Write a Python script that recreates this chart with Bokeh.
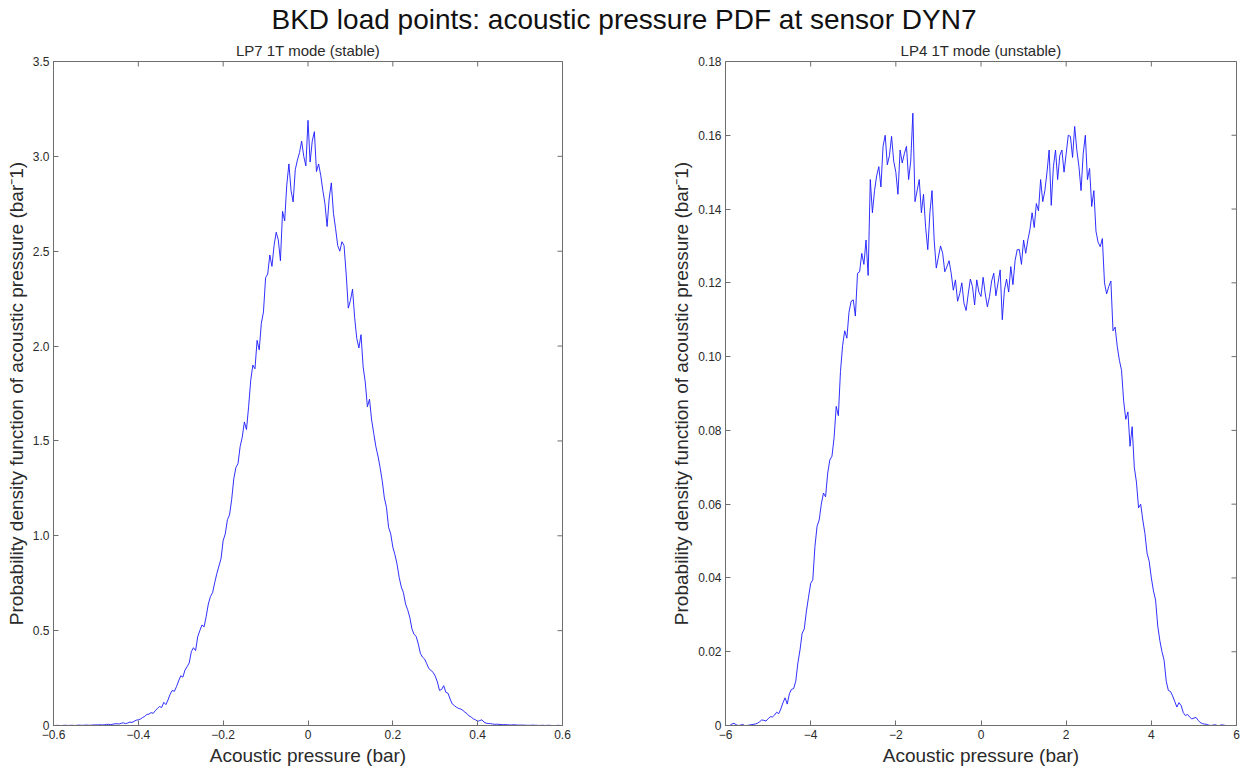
import math
from bokeh.plotting import figure
from bokeh.models import Range1d, FixedTicker, Div
from bokeh.layouts import column, row
from bokeh.embed import file_html
from bokeh.resources import INLINE

# ---------------- data ----------------
main_title = "BKD load points: acoustic pressure PDF at sensor DYN7"
left_title = "LP7 1T mode (stable)"
right_title = "LP4 1T mode (unstable)"
x_label = "Acoustic pressure (bar)"
y_label = "Probability density function of acoustic pressure (bar\u207b1)"

# LP7: pressure bins (bar), step 0.005
left_x = [round(-0.60 + 0.005 * i, 3) for i in range(241)]
left_pdf = [
    0.000, 0.000, 0.001, 0.000, 0.000, 0.001, 0.001, 0.000, 0.001, 0.001,   # -0.600 .. -0.555
    0.000, 0.001, 0.002, 0.001, 0.001, 0.002, 0.002, 0.001, 0.002, 0.003,   # -0.550 .. -0.505
    0.003, 0.003, 0.004, 0.003, 0.004, 0.006, 0.006, 0.005, 0.007, 0.009,   # -0.500 .. -0.455
    0.009, 0.008, 0.012, 0.014, 0.010, 0.013, 0.018, 0.016, 0.022, 0.028,   # -0.450 .. -0.405
    0.030, 0.034, 0.042, 0.048, 0.058, 0.060, 0.068, 0.064, 0.078, 0.090,   # -0.400 .. -0.355
    0.100, 0.095, 0.122, 0.110, 0.135, 0.165, 0.185, 0.180, 0.205, 0.235,   # -0.350 .. -0.305
    0.262, 0.255, 0.292, 0.310, 0.330, 0.390, 0.410, 0.395, 0.468, 0.500,   # -0.300 .. -0.255
    0.530, 0.520, 0.575, 0.640, 0.680, 0.700, 0.752, 0.800, 0.840, 0.880,   # -0.250 .. -0.205
    0.975, 1.010, 1.085, 1.110, 1.190, 1.300, 1.360, 1.380, 1.470, 1.520,   # -0.200 .. -0.155
    1.600, 1.560, 1.680, 1.820, 1.900, 1.880, 2.030, 1.980, 2.120, 2.180,   # -0.150 .. -0.105
    2.360, 2.380, 2.480, 2.420, 2.530, 2.600, 2.560, 2.450, 2.710, 2.660,   # -0.100 .. -0.055
    2.850, 2.960, 2.820, 2.760, 2.930, 2.980, 3.020, 3.080, 3.000, 2.950,   # -0.050 .. -0.005
    3.190, 2.970, 3.080, 3.130, 2.920, 2.960, 2.900, 2.820, 2.750, 2.630,   #  0.000 .. 0.045
    2.780, 2.860, 2.700, 2.620, 2.530, 2.500, 2.550, 2.530, 2.380, 2.200,   #  0.050 .. 0.095
    2.240, 2.300, 2.150, 2.040, 1.990, 2.060, 1.890, 1.810, 1.680, 1.720,   #  0.100 .. 0.145
    1.610, 1.540, 1.470, 1.420, 1.360, 1.290, 1.200, 1.150, 1.045, 1.010,   #  0.150 .. 0.195
    0.940, 0.900, 0.850, 0.780, 0.730, 0.700, 0.640, 0.610, 0.570, 0.510,   #  0.200 .. 0.245
    0.480, 0.470, 0.430, 0.380, 0.360, 0.350, 0.325, 0.300, 0.290, 0.280,   #  0.250 .. 0.295
    0.260, 0.230, 0.185, 0.190, 0.210, 0.175, 0.170, 0.140, 0.114, 0.105,   #  0.300 .. 0.345
    0.096, 0.090, 0.087, 0.080, 0.070, 0.062, 0.050, 0.044, 0.035, 0.030,   #  0.350 .. 0.395
    0.022, 0.026, 0.030, 0.018, 0.012, 0.011, 0.010, 0.008, 0.006, 0.007,   #  0.400 .. 0.445
    0.006, 0.005, 0.004, 0.005, 0.004, 0.003, 0.003, 0.004, 0.003, 0.002,   #  0.450 .. 0.495
    0.002, 0.002, 0.002, 0.001, 0.001, 0.001, 0.002, 0.001, 0.001, 0.000,   #  0.500 .. 0.545
    0.001, 0.001, 0.000, 0.001, 0.001, 0.000, 0.000, 0.000, 0.001, 0.000,   #  0.550 .. 0.595
    0.000,                                                                  #  0.600
]

# LP4: pressure bins (bar), step 0.05
right_x = [round(-6.0 + 0.05 * i, 2) for i in range(241)]
right_pdf = [
    0.0000, 0.0000, 0.0000, 0.0004, 0.0006, 0.0002, 0.0000, 0.0001, 0.0003, 0.0000,  # -6.00 .. -5.55
    0.0000, 0.0001, 0.0002, 0.0003, 0.0004, 0.0006, 0.0010, 0.0015, 0.0014, 0.0012,  # -5.50 .. -5.05
    0.0018, 0.0024, 0.0023, 0.0028, 0.0036, 0.0032, 0.0045, 0.0062, 0.0075, 0.0058,  # -5.00 .. -4.55
    0.0086, 0.0098, 0.0100, 0.0120, 0.0170, 0.0205, 0.0250, 0.0262, 0.0310, 0.0348,  # -4.50 .. -4.05
    0.0385, 0.0395, 0.0485, 0.0540, 0.0557, 0.0600, 0.0630, 0.0620, 0.0684, 0.0720,  # -4.00 .. -3.55
    0.0730, 0.0780, 0.0865, 0.0840, 0.0960, 0.1030, 0.1070, 0.1050, 0.1120, 0.1150,  # -3.50 .. -3.05
    0.1154, 0.1110, 0.1226, 0.1230, 0.1280, 0.1250, 0.1316, 0.1220, 0.1480, 0.1390,  # -3.00 .. -2.55
    0.1450, 0.1490, 0.1515, 0.1460, 0.1570, 0.1600, 0.1520, 0.1545, 0.1597, 0.1530,  # -2.50 .. -2.05
    0.1500, 0.1440, 0.1560, 0.1525, 0.1550, 0.1570, 0.1480, 0.1530, 0.1660, 0.1420,  # -2.00 .. -1.55
    0.1450, 0.1480, 0.1390, 0.1440, 0.1350, 0.1290, 0.1390, 0.1450, 0.1316, 0.1240,  # -1.50 .. -1.05
    0.1270, 0.1300, 0.1280, 0.1230, 0.1244, 0.1260, 0.1226, 0.1180, 0.1208, 0.1150,  # -1.00 .. -0.55
    0.1170, 0.1200, 0.1145, 0.1125, 0.1170, 0.1210, 0.1190, 0.1140, 0.1208, 0.1175,  # -0.50 .. -0.05
    0.1163, 0.1215, 0.1170, 0.1135, 0.1163, 0.1205, 0.1226, 0.1165, 0.1200, 0.1235,  #  0.00 .. 0.45
    0.1100, 0.1180, 0.1210, 0.1175, 0.1244, 0.1195, 0.1260, 0.1290, 0.1290, 0.1250,  #  0.50 .. 0.95
    0.1316, 0.1280, 0.1316, 0.1345, 0.1390, 0.1350, 0.1415, 0.1395, 0.1480, 0.1420,  #  1.00 .. 1.45
    0.1450, 0.1500, 0.1560, 0.1410, 0.1515, 0.1560, 0.1480, 0.1545, 0.1560, 0.1500,  #  1.50 .. 1.95
    0.1550, 0.1600, 0.1597, 0.1540, 0.1624, 0.1560, 0.1515, 0.1450, 0.1550, 0.1600,  #  2.00 .. 2.45
    0.1480, 0.1510, 0.1407, 0.1450, 0.1340, 0.1310, 0.1298, 0.1320, 0.1200, 0.1170,  #  2.50 .. 2.95
    0.1190, 0.1205, 0.1070, 0.1080, 0.1027, 0.0990, 0.0963, 0.0880, 0.0830, 0.0850,  #  3.00 .. 3.45
    0.0757, 0.0810, 0.0700, 0.0660, 0.0590, 0.0600, 0.0557, 0.0520, 0.0467, 0.0445,  #  3.50 .. 3.95
    0.0400, 0.0365, 0.0340, 0.0270, 0.0230, 0.0200, 0.0177, 0.0120, 0.0095, 0.0092,  #  4.00 .. 4.45
    0.0080, 0.0065, 0.0050, 0.0062, 0.0054, 0.0035, 0.0027, 0.0030, 0.0023, 0.0018,  #  4.50 .. 4.95
    0.0020, 0.0022, 0.0014, 0.0008, 0.0005, 0.0004, 0.0003, 0.0001, 0.0000, 0.0001,  #  5.00 .. 5.45
    0.0002, 0.0000, 0.0000, 0.0002, 0.0001, 0.0000, 0.0000, 0.0000, 0.0000, 0.0000,  #  5.50 .. 5.95
    0.0000,                                                                          #  6.00
]

left_xticks = [-0.6, -0.4, -0.2, 0, 0.2, 0.4, 0.6]
left_xtick_labels = ["\u22120.6", "\u22120.4", "\u22120.2", "0", "0.2", "0.4", "0.6"]
left_yticks = [0, 0.5, 1.0, 1.5, 2.0, 2.5, 3.0, 3.5]
left_ytick_labels = ["0", "0.5", "1.0", "1.5", "2.0", "2.5", "3.0", "3.5"]
right_xticks = [-6, -4, -2, 0, 2, 4, 6]
right_xtick_labels = ["\u22126", "\u22124", "\u22122", "0", "2", "4", "6"]
right_yticks = [0, 0.02, 0.04, 0.06, 0.08, 0.10, 0.12, 0.14, 0.16, 0.18]
right_ytick_labels = ["0", "0.02", "0.04", "0.06", "0.08", "0.10", "0.12", "0.14", "0.16", "0.18"]

assert len(left_x) == len(left_pdf)
assert len(right_x) == len(right_pdf)

# ---------------- styling ----------------
FONT = "Liberation Sans"
AXIS_COLOR = "#6e6e6e"
TEXT_COLOR = "#2a2a2a"
LINE_COLOR = "#1a1aff"


def style_axis(ax, ticks, labels):
    ax.ticker = FixedTicker(ticks=ticks, minor_ticks=[])
    ax.major_label_overrides = {t: l for t, l in zip(ticks, labels)}
    ax.major_tick_in = 5
    ax.major_tick_out = 0
    ax.minor_tick_in = 0
    ax.minor_tick_out = 0
    ax.axis_line_color = AXIS_COLOR
    ax.major_tick_line_color = AXIS_COLOR
    ax.major_label_text_font = FONT
    ax.major_label_text_color = TEXT_COLOR
    ax.major_label_text_font_size = "12px"
    ax.major_label_standoff = 4


def make_panel(xs, ys, title, xr, yr, xt, xtl, yt, ytl, left_border, right_border, fw):
    p = figure(
        output_backend="svg", toolbar_location=None,
        frame_width=fw, frame_height=664,
        min_border_left=left_border, min_border_right=right_border,
        min_border_top=27, min_border_bottom=46,
        x_range=Range1d(*xr), y_range=Range1d(*yr),
        title=title,
    )
    p.title.align = "center"
    p.title.text_font = FONT
    p.title.text_font_size = "15px"
    p.title.text_font_style = "normal"
    p.title.text_color = TEXT_COLOR
    p.title.standoff = 5
    p.xgrid.visible = False
    p.ygrid.visible = False
    p.outline_line_color = AXIS_COLOR
    p.background_fill_color = "white"
    p.border_fill_color = "white"

    style_axis(p.xaxis[0], xt, xtl)
    style_axis(p.yaxis[0], yt, ytl)
    p.xaxis[0].axis_label = x_label
    p.yaxis[0].axis_label = y_label
    for ax in (p.xaxis[0], p.yaxis[0]):
        ax.axis_label_text_font = FONT
        ax.axis_label_text_font_size = "19px"
        ax.axis_label_text_font_style = "normal"
        ax.axis_label_text_color = TEXT_COLOR
        ax.axis_label_standoff = 3

    # mirrored inward tick marks on the top and right edges of the box
    p.scatter(xt, [yr[1]] * len(xt), marker="dash", angle=math.pi / 2, size=10,
              line_color=AXIS_COLOR, line_width=1)
    p.scatter([xr[1]] * len(yt), yt, marker="dash", size=10,
              line_color=AXIS_COLOR, line_width=1)

    p.line(xs, ys, line_color=LINE_COLOR, line_width=1.0, line_alpha=0.9)
    return p


p1 = make_panel(left_x, left_pdf, left_title, (-0.6, 0.6), (0, 3.5),
                left_xticks, left_xtick_labels, left_yticks, left_ytick_labels,
                53, 78, 509)
p2 = make_panel(right_x, right_pdf, right_title, (-6, 6), (0, 0.18),
                right_xticks, right_xtick_labels, right_yticks, right_ytick_labels,
                85, 12, 511)

header = Div(
    text=main_title, width=1248, height=34,
    styles={"text-align": "center", "font-family": FONT, "font-size": "28px",
            "color": "#111111", "line-height": "40px", "margin": "0", "padding": "0",
            "white-space": "nowrap"},
)

layout = column(header, row(p1, p2, spacing=0), spacing=0)

open("out.html", "w").write(file_html(layout, INLINE, title="BKD PDF"))
